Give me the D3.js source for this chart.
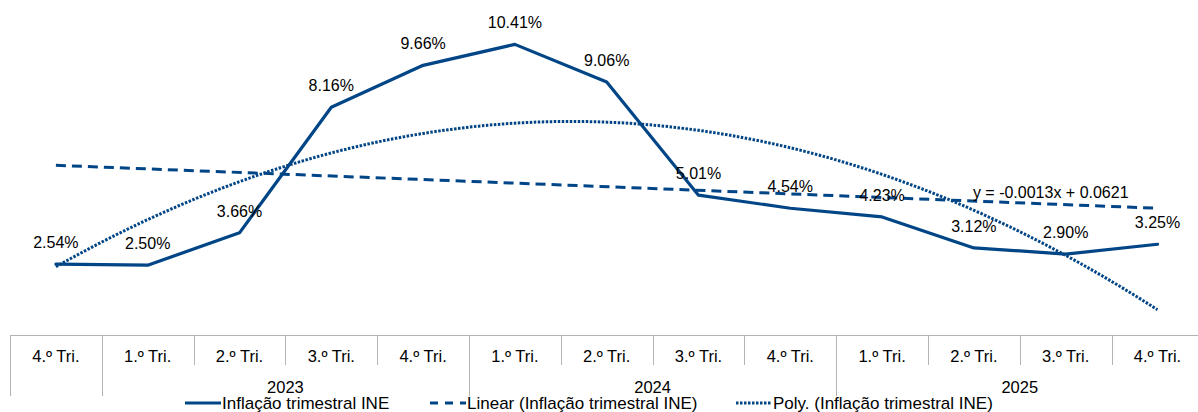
<!DOCTYPE html>
<html>
<head>
<meta charset="utf-8">
<script src="https://cdn.jsdelivr.net/npm/d3@7"></script>
<style>
  body { margin: 0; background: #fff; }
  svg { display: block; font-family: "Liberation Sans", Arial, sans-serif; }
</style>
</head>
<body>
<svg id="chart" width="1198" height="412"></svg>
<script>
// Quarterly inflation (INE), 4th quarter 2022 through 4th quarter 2025
const quarters = ["4.º Tri.", "1.º Tri.", "2.º Tri.", "3.º Tri.", "4.º Tri.",
                  "1.º Tri.", "2.º Tri.", "3.º Tri.", "4.º Tri.",
                  "1.º Tri.", "2.º Tri.", "3.º Tri.", "4.º Tri."];
const yearLabels = ["", "2023", "2024", "2025"];
const yearSpans = [1, 4, 4, 4];
const inflation = [0.0254, 0.0250, 0.0366, 0.0816, 0.0966, 0.1041, 0.0906,
                   0.0501, 0.0454, 0.0423, 0.0312, 0.0290, 0.0325];
const legendLabels = ["Inflação trimestral INE",
                      "Linear (Inflação trimestral INE)",
                      "Poly. (Inflação trimestral INE)"];

const color = "#004586";
const svg = d3.select("#chart");

const axisTop = 335, rowMid = 365, axisBottom = 396;
const bandW = 91.8;
const x = d3.scaleBand()
  .domain(d3.range(quarters.length))
  .range([10, 10 + bandW * quarters.length])
  .padding(0);
const cx = i => x(i) + x.bandwidth() / 2;
const y = d3.scaleLinear().domain([0, 0.12]).range([axisTop, 0]);

// Least-squares trend lines over x = 1..n
const n = inflation.length;
const xs = d3.range(1, n + 1);
function fitPoly(deg) {
  const m = deg + 1;
  const A = Array.from({length: m}, () => new Array(m + 1).fill(0));
  xs.forEach((xv, k) => {
    for (let r = 0; r < m; r++) {
      for (let c = 0; c < m; c++) A[r][c] += Math.pow(xv, r + c);
      A[r][m] += Math.pow(xv, r) * inflation[k];
    }
  });
  for (let p = 0; p < m; p++) {
    let best = p;
    for (let r = p + 1; r < m; r++) if (Math.abs(A[r][p]) > Math.abs(A[best][p])) best = r;
    [A[p], A[best]] = [A[best], A[p]];
    for (let r = 0; r < m; r++) {
      if (r === p) continue;
      const f = A[r][p] / A[p][p];
      for (let c = p; c <= m; c++) A[r][c] -= f * A[p][c];
    }
  }
  return d3.range(m).map(r => A[r][m] / A[r][r]);
}
const evalPoly = (coef, t) => coef.reduce((s, c, i) => s + c * Math.pow(t, i), 0);
const linCoef = fitPoly(1);
const quadCoef = fitPoly(2);
const xPos = t => cx(0) + (t - 1) * bandW;

// Category axis: baseline, quarter separators, year group separators
const axisG = svg.append("g").attr("stroke", "#b3b3b3").attr("stroke-width", 1);
axisG.append("line").attr("x1", 10).attr("x2", 1198).attr("y1", axisTop + 0.5).attr("y2", axisTop + 0.5);
d3.range(quarters.length + 1).forEach(i => {
  const xe = Math.round(10 + i * bandW) + 0.5;
  axisG.append("line").attr("x1", xe).attr("x2", xe).attr("y1", axisTop).attr("y2", rowMid);
});
let acc = 0;
yearSpans.forEach(s => {
  const xe = Math.round(10 + acc * bandW) + 0.5;
  axisG.append("line").attr("x1", xe).attr("x2", xe).attr("y1", axisTop).attr("y2", axisBottom);
  acc += s;
});

svg.append("g").selectAll("text").data(quarters).join("text")
  .attr("x", (d, i) => cx(i)).attr("y", 361.5)
  .attr("text-anchor", "middle").attr("font-size", 16.5).attr("fill", "#000")
  .text(d => d);

acc = 0;
yearLabels.forEach((lab, k) => {
  const x0 = 10 + acc * bandW, x1 = 10 + (acc + yearSpans[k]) * bandW;
  acc += yearSpans[k];
  if (!lab) return;
  svg.append("text").attr("x", (x0 + x1) / 2).attr("y", 393)
    .attr("text-anchor", "middle").attr("font-size", 16.5).attr("fill", "#000").text(lab);
});

// Trend lines
const tSamples = d3.range(1, n + 0.001, 0.1);
svg.append("path")
  .attr("d", d3.line()([[xPos(1), y(evalPoly(linCoef, 1))], [xPos(n), y(evalPoly(linCoef, n))]]))
  .attr("fill", "none").attr("stroke", color).attr("stroke-width", 3)
  .attr("stroke-dasharray", "10,6");
svg.append("path")
  .attr("d", d3.line().curve(d3.curveLinear)(tSamples.map(t => [xPos(t), y(evalPoly(quadCoef, t))])))
  .attr("fill", "none").attr("stroke", color).attr("stroke-width", 3)
  .attr("stroke-dasharray", "2.5,1.5");

// Main series
svg.append("path")
  .attr("d", d3.line()(inflation.map((v, i) => [cx(i), y(v)])))
  .attr("fill", "none").attr("stroke", color).attr("stroke-width", 3.2)
  .attr("stroke-linejoin", "round").attr("stroke-linecap", "round");

// Value labels
const pct = d3.format(".2f");
svg.append("g").selectAll("text").data(inflation).join("text")
  .attr("x", (d, i) => cx(i)).attr("y", d => y(d) - 16)
  .attr("text-anchor", "middle").attr("font-size", 16).attr("fill", "#000")
  .text(d => pct(d * 100) + "%");

// Linear trend equation (plain hyphen for the sign)
const f4 = v => v.toFixed(4);
const eq = "y = " + f4(linCoef[1]) + "x " + (linCoef[0] < 0 ? "- " : "+ ") + f4(Math.abs(linCoef[0]));
svg.append("text").attr("x", cx(10) - 1).attr("y", 198)
  .attr("font-size", 16).attr("fill", "#000").text(eq);

// Legend
const legendItems = [
  {label: legendLabels[0], x: 185, dash: null},
  {label: legendLabels[1], x: 430, dash: "8,7"},
  {label: legendLabels[2], x: 736, dash: "2.5,1.5"}
];
const lg = svg.append("g");
legendItems.forEach(it => {
  lg.append("line").attr("x1", it.x).attr("x2", it.x + 36).attr("y1", 403).attr("y2", 403)
    .attr("stroke", color).attr("stroke-width", 3)
    .attr("stroke-dasharray", it.dash);
  lg.append("text").attr("x", it.x + 37).attr("y", 409)
    .attr("font-size", 17).attr("fill", "#000").text(it.label);
});
</script>
</body>
</html>
